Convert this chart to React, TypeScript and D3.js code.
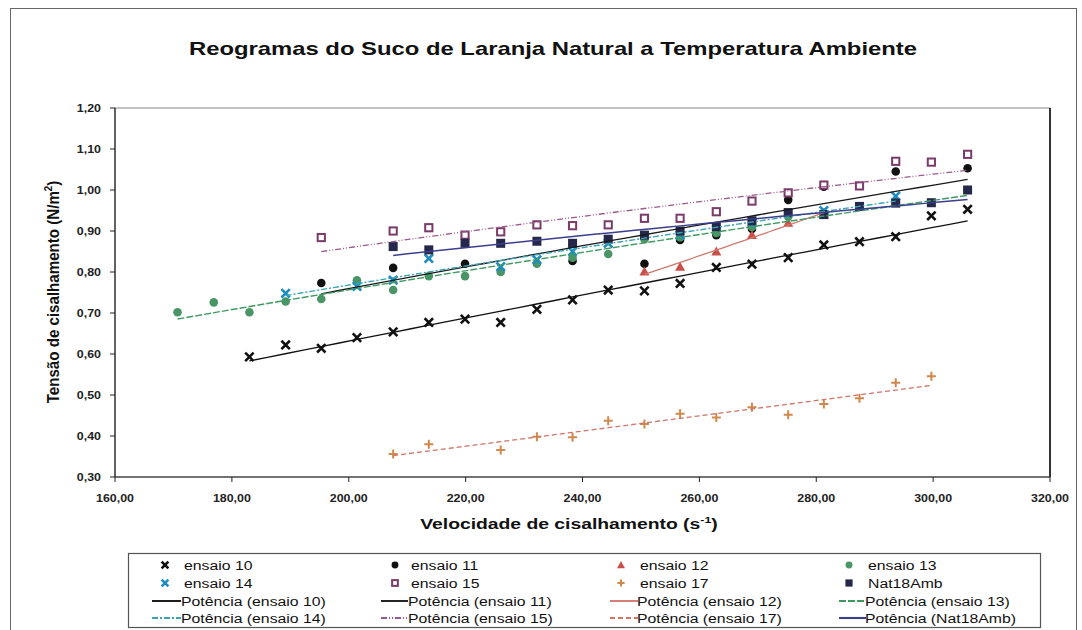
import React from 'react';
import * as d3 from 'd3';

// ---------- DATA ----------
const shearRate = [170.7, 176.9, 183.0, 189.2, 195.3, 201.4, 207.6, 213.7, 219.9, 226.0, 232.2, 238.3, 244.4, 250.6, 256.7, 262.9, 269.0, 275.2, 281.3, 287.4, 293.6, 299.7, 305.9];
const N = null;
const ensaio10 = [N, N, 0.593, 0.622, 0.614, 0.640, 0.654, 0.677, 0.685, 0.677, 0.709, 0.732, 0.756, 0.754, 0.772, 0.811, 0.819, 0.835, 0.866, 0.874, 0.886, 0.937, 0.953];
const ensaio11 = [N, N, N, N, 0.773, N, 0.810, N, 0.820, N, N, 0.827, N, 0.820, 0.878, 0.890, 0.905, 0.976, 1.008, N, 1.045, N, 1.053];
const ensaio12 = [N, N, N, N, N, N, N, N, N, N, N, N, N, 0.801, 0.813, 0.850, 0.890, 0.920, 0.940, N, N, N, N];
const ensaio13 = [0.702, 0.726, 0.702, 0.728, 0.734, 0.780, 0.756, 0.790, 0.790, 0.800, 0.820, 0.835, 0.844, 0.880, 0.885, 0.895, 0.910, 0.935, 0.945, N, 0.970, N, 1.000];
const ensaio14 = [N, N, N, 0.748, N, 0.765, 0.780, 0.833, N, 0.813, 0.830, 0.850, 0.870, N, 0.890, N, 0.920, N, 0.950, N, 0.985, N, N];
const ensaio15 = [N, N, N, N, 0.884, N, 0.900, 0.908, 0.890, 0.898, 0.915, 0.913, 0.915, 0.931, 0.931, 0.947, 0.973, 0.993, 1.012, 1.010, 1.070, 1.068, 1.087];
const ensaio17 = [N, N, N, N, N, N, 0.356, 0.380, N, 0.366, 0.398, 0.397, 0.437, 0.429, 0.454, 0.445, 0.470, 0.452, 0.478, 0.492, 0.530, 0.546, N];
const nat18Amb = [N, N, N, N, N, N, 0.862, 0.854, 0.870, 0.870, 0.875, 0.870, 0.880, 0.890, 0.900, 0.910, 0.925, 0.945, 0.940, 0.960, 0.968, 0.969, 1.000];

const seriesNames = ['ensaio 10', 'ensaio 11', 'ensaio 12', 'ensaio 13', 'ensaio 14', 'ensaio 15', 'ensaio 17', 'Nat18Amb'];
const xTicks = [160, 180, 200, 220, 240, 260, 280, 300, 320];
const yTicks = [0.3, 0.4, 0.5, 0.6, 0.7, 0.8, 0.9, 1.0, 1.1, 1.2];

const chartTitle = 'Reogramas do Suco de Laranja Natural a Temperatura Ambiente';

// ---------- STYLE / OPTIONS ----------
type MarkerKind = 'x' | 'dot' | 'tri' | 'osq' | 'plus' | 'sq';
const seriesStyle: { values: (number | null)[]; marker: MarkerKind; color: string; lineColor: string; dash: string; lineWidth: number }[] = [
  { values: ensaio10, marker: 'x', color: '#111111', lineColor: '#111111', dash: '', lineWidth: 1.3 },
  { values: ensaio11, marker: 'dot', color: '#111111', lineColor: '#1a1a1a', dash: '', lineWidth: 1.3 },
  { values: ensaio12, marker: 'tri', color: '#c9504a', lineColor: '#d07a6c', dash: '', lineWidth: 1.3 },
  { values: ensaio13, marker: 'dot', color: '#4a9566', lineColor: '#3f9a62', dash: '7,2', lineWidth: 1.4 },
  { values: ensaio14, marker: 'x', color: '#1f8cc0', lineColor: '#3aa5b5', dash: '6,2,2,2', lineWidth: 1.4 },
  { values: ensaio15, marker: 'osq', color: '#7a3a6a', lineColor: '#9b5a8c', dash: '6,2,1,2,1,2', lineWidth: 1.3 },
  { values: ensaio17, marker: 'plus', color: '#d0894c', lineColor: '#cf7466', dash: '5,3', lineWidth: 1.3 },
  { values: nat18Amb, marker: 'sq', color: '#25284a', lineColor: '#3b3f8c', dash: '', lineWidth: 1.5 },
];

const W = 1082, H = 630;
const plot = { left: 115, right: 1050, top: 108, bottom: 477 };
const x = d3.scaleLinear().domain([160, 320]).range([plot.left, plot.right]);
const y = d3.scaleLinear().domain([0.3, 1.2]).range([plot.bottom, plot.top]);
const fmt = (v: number) => d3.format('.2f')(v).replace('.', ',');

function powerFit(xs: number[], ys: number[]) {
  const lx = xs.map(Math.log), ly = ys.map(Math.log);
  const n = lx.length;
  const mx = d3.mean(lx)!, my = d3.mean(ly)!;
  let sxy = 0, sxx = 0;
  for (let i = 0; i < n; i++) { sxy += (lx[i] - mx) * (ly[i] - my); sxx += (lx[i] - mx) ** 2; }
  const b = sxy / sxx;
  const a = Math.exp(my - b * mx);
  return { a, b };
}

function Marker({ kind, cx, cy, color, s = 1 }: { kind: MarkerKind; cx: number; cy: number; color: string; s?: number }) {
  switch (kind) {
    case 'x': {
      const r = 4.2 * s;
      return <path d={`M${cx - r},${cy - r}L${cx + r},${cy + r}M${cx - r},${cy + r}L${cx + r},${cy - r}`} stroke={color} strokeWidth={2.6} />;
    }
    case 'dot':
      return <circle cx={cx} cy={cy} r={4.3 * s} fill={color} />;
    case 'tri': {
      const r = 5 * s;
      return <path d={`M${cx},${cy - r}L${cx + r},${cy + r * 0.8}L${cx - r},${cy + r * 0.8}Z`} fill={color} />;
    }
    case 'osq': {
      const r = 3.6 * s;
      return <rect x={cx - r} y={cy - r} width={2 * r} height={2 * r} fill="#fff" stroke={color} strokeWidth={2} />;
    }
    case 'plus': {
      const r = 4.5 * s;
      return <path d={`M${cx - r},${cy}L${cx + r},${cy}M${cx},${cy - r}L${cx},${cy + r}`} stroke={color} strokeWidth={2} />;
    }
    case 'sq': {
      const r = 4.5 * s;
      return <rect x={cx - r} y={cy - r} width={2 * r} height={2 * r} fill={color} />;
    }
  }
  return null;
}

export default function App() {
  const trendLine = d3.line<[number, number]>().x(d => x(d[0])).y(d => y(d[1]));

  const fitted = seriesStyle.map(s => {
    const pts = shearRate.map((sx, i) => [sx, s.values[i]] as [number, number | null]).filter(p => p[1] !== null) as [number, number][];
    const { a, b } = powerFit(pts.map(p => p[0]), pts.map(p => p[1]));
    const [x0, x1] = d3.extent(pts, p => p[0]) as [number, number];
    const samples: [number, number][] = d3.range(0, 41).map(k => {
      const xv = x0 + (x1 - x0) * k / 40;
      return [xv, a * Math.pow(xv, b)];
    });
    return { pts, path: trendLine(samples) || '' };
  });

  // legend layout
  const colMarkerX = [165, 395, 621, 849];
  const colTextX = [184, 411, 640, 868];
  const colLine = [[152, 181], [381, 408], [610, 638], [839, 866]];
  const rowY = [565, 583, 601, 618];
  const sx = 1.17; // horizontal stretch of scanned text

  const font = "'Liberation Sans', Arial, sans-serif";

  return (
    <svg width={W} height={H} style={{ position: 'absolute', left: 0, top: 0, background: '#fff' }} fontFamily={font}>
      <rect x={0} y={0} width={W} height={H} fill="#fff" />
      {/* outer chart frame */}
      <rect x={10.5} y={8.5} width={1066} height={640} fill="none" stroke="#666" strokeWidth={1} />

      {/* title */}
      <text x={553} y={55} textAnchor="middle" fontSize={19} fontWeight="bold" fill="#111" textLength={728} lengthAdjust="spacingAndGlyphs">{chartTitle}</text>

      {/* plot frame */}
      <rect x={plot.left} y={plot.top} width={plot.right - plot.left} height={plot.bottom - plot.top} fill="none" stroke="#888" strokeWidth={1} />
      <line x1={plot.left} x2={plot.left} y1={plot.top} y2={plot.bottom} stroke="#222" strokeWidth={1.2} />
      <line x1={plot.left} x2={plot.right} y1={plot.bottom} y2={plot.bottom} stroke="#222" strokeWidth={1.2} />
      <line x1={plot.right} x2={plot.right} y1={plot.top} y2={plot.bottom} stroke="#333" strokeWidth={2} />

      {/* y ticks */}
      {yTicks.map(t => (
        <g key={'y' + t}>
          <line x1={plot.left - 5} x2={plot.left} y1={y(t)} y2={y(t)} stroke="#222" />
          <text transform={`translate(${plot.left - 14},${y(t) + 4}) scale(1.08,1)`} textAnchor="end" fontSize={11.5} fontWeight="bold" fill="#222">{fmt(t)}</text>
        </g>
      ))}
      {/* x ticks */}
      {xTicks.map(t => (
        <g key={'x' + t}>
          <line x1={x(t)} x2={x(t)} y1={plot.bottom} y2={plot.bottom + 5} stroke="#222" />
          <text transform={`translate(${x(t)},${plot.bottom + 25}) scale(1.08,1)`} textAnchor="middle" fontSize={11.5} fontWeight="bold" fill="#222">{fmt(t)}</text>
        </g>
      ))}

      {/* axis titles */}
      <text transform="translate(569,529) scale(1.38,1)" textAnchor="middle" fontSize={14} fontWeight="bold" fill="#111">
        Velocidade de cisalhamento (s<tspan dy={-6} fontSize={9}>-1</tspan><tspan dy={6}>)</tspan>
      </text>
      <text transform="translate(59,292) rotate(-90) scale(1.08,1.15)" textAnchor="middle" fontSize={14} fontWeight="bold" fill="#111">
        Tensão de cisalhamento (N/m<tspan dy={-6} fontSize={9}>2</tspan><tspan dy={6}>)</tspan>
      </text>

      {/* markers */}
      {seriesStyle.map((s, si) => (
        <g key={'m' + si}>
          {fitted[si].pts.map((p, i) => (
            <Marker key={i} kind={s.marker} cx={x(p[0])} cy={y(p[1])} color={s.color} />
          ))}
        </g>
      ))}
      {/* trend lines */}
      {seriesStyle.map((s, si) => (
        <path key={'t' + si} d={fitted[si].path} fill="none" stroke={s.lineColor} strokeWidth={s.lineWidth} strokeDasharray={s.dash || undefined} />
      ))}

      {/* legend */}
      <rect x={128.5} y={553.5} width={912} height={74} fill="#fff" stroke="#555" strokeWidth={1.2} />
      {seriesNames.map((name, i) => {
        const col = i % 4, row = Math.floor(i / 4);
        const s = seriesStyle[i];
        return (
          <g key={'l' + i}>
            <Marker kind={s.marker} cx={colMarkerX[col]} cy={rowY[row]} color={s.color} s={0.8} />
            <text transform={`translate(${colTextX[col]},${rowY[row] + 5}) scale(${sx},1)`} fontSize={13.5} fill="#111">{name}</text>
          </g>
        );
      })}
      {seriesNames.map((name, i) => {
        const col = i % 4, row = 2 + Math.floor(i / 4);
        const s = seriesStyle[i];
        return (
          <g key={'p' + i}>
            <line x1={colLine[col][0]} x2={colLine[col][1]} y1={rowY[row]} y2={rowY[row]} stroke={s.lineColor} strokeWidth={s.lineWidth + 0.6} strokeDasharray={s.dash || undefined} />
            <text transform={`translate(${colTextX[col] - 3},${rowY[row] + 5}) scale(${sx},1)`} fontSize={13.5} fill="#111">{`Potência (${name})`}</text>
          </g>
        );
      })}
    </svg>
  );
}
